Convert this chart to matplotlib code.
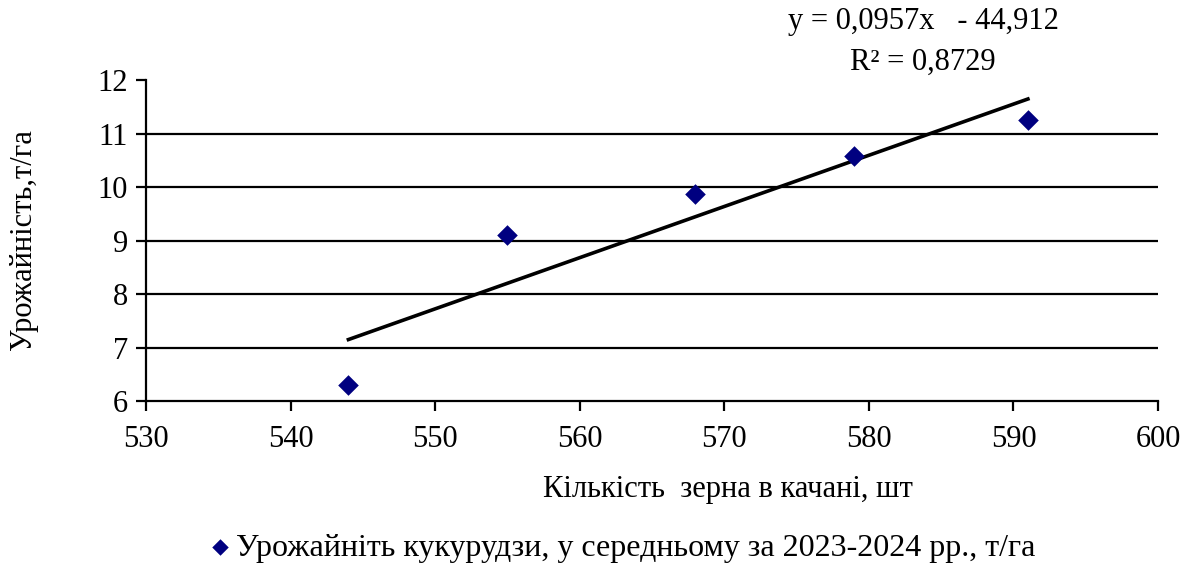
import matplotlib
matplotlib.use("Agg")
import matplotlib.pyplot as plt
import numpy as np

plt.rcParams['font.family'] = ['Liberation Serif', 'DejaVu Serif']

kernels = [544, 555, 568, 579, 591]
yields = [6.30, 9.10, 9.87, 10.58, 11.25]
slope = 0.0957
intercept = -44.912
r2_text = "R² = 0,8729"
eq_text = "y = 0,0957x   - 44,912"
xticks = [530, 540, 550, 560, 570, 580, 590, 600]
yticks = [6, 7, 8, 9, 10, 11, 12]
series_label = "Урожайніть кукурудзи, у середньому за 2023-2024 рр., т/га"
xlabel = "Кількість  зерна в качані, шт"
ylabel = "Урожайність,т/га"

fig = plt.figure(figsize=(11.92, 5.68), dpi=100)
ax = fig.add_axes([0.1225, 0.294, 0.849, 0.565])

for yv in yticks[1:-1]:
    ax.axhline(yv, color='black', lw=1.6, zorder=1)

ax.scatter(kernels, yields, marker='D', s=110, color='#000080', zorder=3,
           label=series_label, linewidths=0)
xt = np.array([min(kernels), max(kernels)])
ax.plot(xt, slope * xt + intercept, color='black', lw=2.6, zorder=2)

ax.set_xlim(530, 600)
ax.set_ylim(6, 12)
ax.set_xticks(xticks)
ax.set_yticks(yticks)
ax.tick_params(axis='both', labelsize=22, direction='out', length=7, width=1.6, color='black')
ax.tick_params(axis='x', pad=10)
ax.tick_params(axis='y', pad=6)
for s in ['top', 'right']:
    ax.spines[s].set_visible(False)
for s in ['left', 'bottom']:
    ax.spines[s].set_linewidth(1.6)

fig.text(923 / 1192, 1 - 22 / 568, eq_text, ha='center', va='center', fontsize=22)
fig.text(923 / 1192, 1 - 62 / 568, r2_text, ha='center', va='center', fontsize=22)
fig.text(728 / 1192, 1 - 490 / 568, xlabel, ha='center', va='center', fontsize=22)
fig.text(24 / 1192, 1 - 240 / 568, ylabel, ha='center', va='center', fontsize=22, rotation=90)

fig.legend(loc='center', bbox_to_anchor=(620 / 1192, 1 - 548 / 568), frameon=False,
           fontsize=23, handletextpad=0.0, handlelength=1.0, markerscale=0.8,
           borderaxespad=0)

fig.savefig('out.png', dpi=100)
